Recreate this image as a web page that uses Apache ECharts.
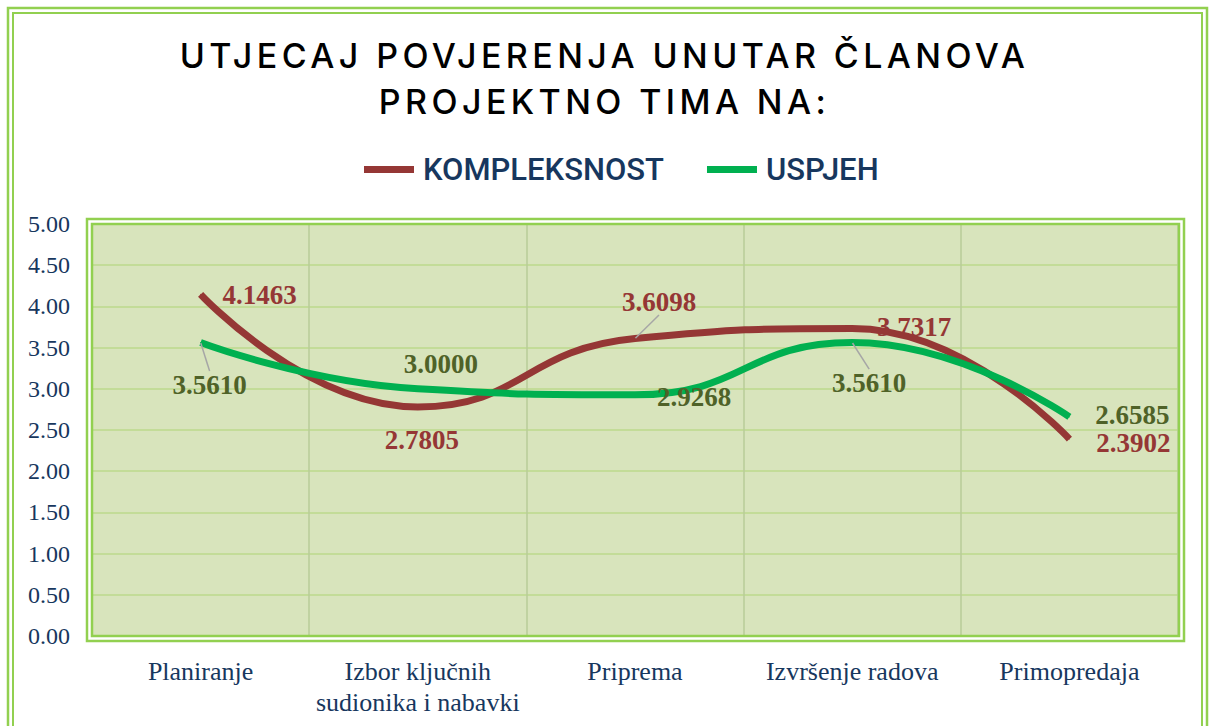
<!DOCTYPE html>
<html>
<head>
<meta charset="utf-8">
<script src="https://cdn.jsdelivr.net/npm/echarts@6/dist/echarts.min.js"></script>
<style>
  html, body { margin: 0; padding: 0; background: #fff; }
  #chart { width: 1209px; height: 726px; }
  /* spaced-out title letters, as in the original */
  #chart svg text[style*="Inter"] { letter-spacing: 4.4px; }
</style>
</head>
<body>
<div id="chart"></div>
<script>
const categories = ['Planiranje', 'Izbor ključnih\nsudionika i nabavki', 'Priprema', 'Izvršenje radova', 'Primopredaja'];
const kompleksnost = [4.1463, 2.7805, 3.6098, 3.7317, 2.3902];
const uspjeh = [3.5610, 3.0000, 2.9268, 3.5610, 2.6585];
const yTicks = [0, 0.5, 1, 1.5, 2, 2.5, 3, 3.5, 4, 4.5, 5];

// where each value label sits relative to its point (layout only)
const kompOffsets = [[59, 1], [4, 33], [24, -37], [62, -2], [64, 4]];
const uspjehOffsets = [[9, 42], [23, -25], [59, 2], [17, 40], [63, -2]];
const kompLeader = [false, false, true, false, false];
const uspjehLeader = [true, false, false, true, false];

const chart = echarts.init(document.getElementById('chart'), null, { renderer: 'svg' });

function buildData(values, leaders) {
  return values.map((v, i) => ({
    value: v,
    labelLine: { show: leaders[i], lineStyle: { color: '#a6a6a6', width: 1.5 } },
  }));
}

const labelFont = {
  fontFamily: 'Liberation Serif',
  fontWeight: 'bold',
  fontSize: 27,
  lineHeight: 24,
};

const opts = {
  animation: false,
  title: {
    text: 'UTJECAJ POVJERENJA UNUTAR ČLANOVA\nPROJEKTNO TIMA NA:',
    left: 'center',
    top: 27,
    textStyle: {
      fontFamily: 'Inter',
      fontWeight: 500,
      fontSize: 34,
      lineHeight: 46,
      color: '#000',
    },
  },
  legend: {
    top: 149,
    left: 359,
    icon: 'rect',
    itemWidth: 50,
    itemHeight: 7,
    itemGap: 43,
    textStyle: {
      fontFamily: 'Roboto',
      fontWeight: 500,
      fontSize: 31,
      color: '#17375e',
      padding: [0, 0, 0, 4],
    },
    data: ['KOMPLEKSNOST', 'USPJEH'],
  },
  grid: {
    left: 92,
    right: 31,
    top: 224,
    bottom: 90,
    show: true,
    backgroundColor: '#d8e4bc',
    borderWidth: 0,
  },
  xAxis: {
    type: 'category',
    data: categories,
    boundaryGap: true,
    axisLine: { show: false },
    axisTick: { show: false },
    splitLine: { show: true, interval: 0, lineStyle: { color: '#b8cc98', width: 1.5 } },
    axisLabel: {
      interval: 0,
      margin: 20,
      fontFamily: 'Liberation Serif',
      fontSize: 26,
      lineHeight: 31,
      color: '#17375e',
    },
  },
  yAxis: {
    type: 'value',
    min: yTicks[0],
    max: yTicks[yTicks.length - 1],
    interval: 0.5,
    axisLine: { show: false },
    axisTick: { show: false },
    splitLine: { lineStyle: { color: '#c3dc98', width: 2 } },
    axisLabel: {
      margin: 22,
      fontFamily: 'Liberation Serif',
      fontSize: 24,
      color: '#17375e',
      formatter: (v) => v.toFixed(2),
    },
  },
  graphic: [
    // outer double frame
    { type: 'rect', shape: { x: 8, y: 8, width: 1199, height: 740 }, style: { fill: 'none', stroke: '#92d050', lineWidth: 2.5 }, silent: true },
    { type: 'rect', shape: { x: 13, y: 13, width: 1189, height: 740 }, style: { fill: 'none', stroke: '#92d050', lineWidth: 2 }, silent: true },
    // plot area double border
    { type: 'rect', shape: { x: 87, y: 219, width: 1097, height: 422 }, style: { fill: 'none', stroke: '#92d050', lineWidth: 2.5 }, silent: true, z: 10 },
    { type: 'rect', shape: { x: 92, y: 224, width: 1087, height: 412 }, style: { fill: 'none', stroke: '#92d050', lineWidth: 2.5 }, silent: true, z: 10 },
  ],
  series: [
    {
      name: 'KOMPLEKSNOST',
      type: 'line',
      smooth: 0.5,
      symbol: 'circle',
      symbolSize: 1,
      color: '#953735',
      lineStyle: { width: 7, color: '#953735' },
      data: buildData(kompleksnost, kompLeader),
      label: {
        show: true,
        position: 'inside',
        formatter: (p) => p.value.toFixed(4),
        color: '#953735',
        ...labelFont,
      },
      labelLine: { show: false },
      labelLayout: (p) => ({ dx: kompOffsets[p.dataIndex][0], dy: kompOffsets[p.dataIndex][1] }),
    },
    {
      name: 'USPJEH',
      type: 'line',
      smooth: 0.5,
      symbol: 'circle',
      symbolSize: 1,
      color: '#00b050',
      lineStyle: { width: 7, color: '#00b050' },
      data: buildData(uspjeh, uspjehLeader),
      label: {
        show: true,
        position: 'inside',
        formatter: (p) => p.value.toFixed(4),
        color: '#4f6228',
        ...labelFont,
      },
      labelLine: { show: false },
      labelLayout: (p) => ({ dx: uspjehOffsets[p.dataIndex][0], dy: uspjehOffsets[p.dataIndex][1] }),
    },
  ],
};

chart.setOption(opts);
</script>
</body>
</html>
